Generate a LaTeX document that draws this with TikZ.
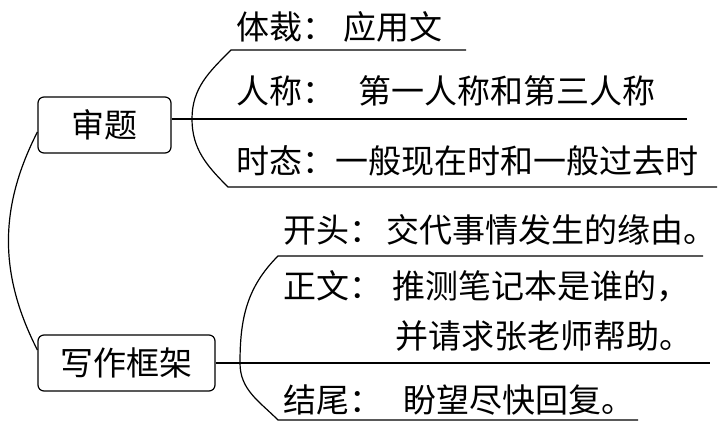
\documentclass[tikz,border=0pt]{standalone}
\usepackage{fontspec}
\newfontfamily\cjk{Noto Sans CJK SC}
\usetikzlibrary{calc}

\begin{document}
\begin{tikzpicture}[x=1pt,y=-1pt,line width=1.2pt,
		font=\cjk\fontsize{33}{40}\selectfont]
		\tikzstyle{topic_box}=[rectangle,rounded corners=6pt,draw=black,minimum height=56pt,inner sep=0pt]
		\tikzstyle{branch_text}=[anchor=west,inner sep=0pt]
		\useasboundingbox (0,0) rectangle (723,426);
		
		\node[topic_box,minimum width=133pt] (shenti) at (104.5,125) {审题};
		\node[topic_box,minimum width=177pt] (kuangjia) at (126.5,363) {写作框架};
		\draw ([yshift=-7pt]shenti.west) to[out=243,in=117] ([yshift=13pt]kuangjia.west);
		
		% bracket of shenti
		\coordinate (junction_a) at (192,119);
		\coordinate (top_a_start) at (231,50);
		\coordinate (top_a_end) at (466,50);
		\coordinate (bot_a_start) at (228,187);
		\coordinate (bot_a_end) at (717,187);
		\coordinate (mid_a_end) at (687,119);
		\draw (top_a_end) -- (top_a_start) to[out=225,in=90] (junction_a)
			to[out=270,in=135] (bot_a_start) -- (bot_a_end);
		\draw ([yshift=6pt]shenti.east) -- (mid_a_end);
		
		\node[branch_text] (ticai) at (236,27) {体裁：\hspace{8pt}应用文};
		\node[branch_text] (renchen) at (236,91) {人称：\hspace{23pt}第一人称和第三人称};
		\node[branch_text] (shitai) at (236,161) {时态：一般现在时和一般过去时};
		
		% bracket of kuangjia
		\coordinate (junction_b) at (240,363);
		\coordinate (top_b_start) at (278,256);
		\coordinate (top_b_end) at (703,256);
		\coordinate (bot_b_start) at (278,420);
		\coordinate (bot_b_end) at (638,420);
		\coordinate (mid_b_end) at (710,363);
		\draw (top_b_end) -- (top_b_start) to[out=225,in=90] (junction_b)
			to[out=270,in=135] (bot_b_start) -- (bot_b_end);
		\draw (kuangjia.east) -- (mid_b_end);
		
		\node[branch_text] (kaitou) at (283,230) {开头：\hspace{4pt}交代事情发生的缘由。};
		\node[branch_text] (zhengwen) at (283,286) {正文：\hspace{10pt}推测笔记本是谁的，};
		\node[branch_text] (zhengwen2) at (395,336) {并请求张老师帮助。};
		\node[branch_text] (jiewei) at (283,400) {结尾：\hspace{21pt}盼望尽快回复。};
	\end{tikzpicture}
\end{document}
